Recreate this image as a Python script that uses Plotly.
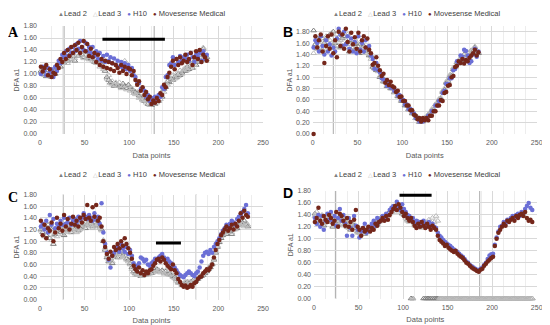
import plotly.graph_objects as go

# ---------------- data ----------------
x_A = list(range(1, 188, 2))
x_B = list(range(1, 186, 2))
x_C = list(range(1, 234, 2))
x_D = list(range(1, 246, 2))

# Panel A
lead2_A = [1.05,1.00,1.10,0.96,1.06,1.02,0.95,1.04, 1.00,1.10,1.18,1.12,1.22, 1.18,1.28,1.22,1.32,1.25,1.30,1.22,
           1.38,1.30,1.40,1.32,1.28,1.36,1.26,1.30, 1.25,1.30,1.20,1.26,1.18,1.22,1.15, 1.12,1.05,0.95,0.90,0.86,0.84,0.80,0.84,
           0.82,0.80,0.78,0.84,0.80,0.76,0.82,0.78, 0.75,0.72,0.70,0.68,0.64,0.62,0.58, 0.55,0.58,0.50,0.55,0.48,0.52,0.50,0.56,
           0.55,0.65,0.62,0.75,0.78,0.88,0.86, 0.92,0.90,0.96,0.94,1.00,0.98,1.02,1.05, 1.05,1.12,1.08,1.15,1.10,1.22,1.15,
           1.25,1.20,1.32,1.42,1.24,1.28]
lead3_A = [1.02,1.08,0.98,1.10,1.00,0.96,1.06,1.02, 1.08,1.14,1.12,1.20,1.18, 1.22,1.30,1.18,1.28,1.24,1.34,1.26,
           1.34,1.40,1.30,1.36,1.26,1.32,1.28,1.24, 1.28,1.22,1.26,1.18,1.22,1.12,1.18, 1.08,1.10,0.92,0.98,0.84,0.88,0.82,0.86,
           0.80,0.86,0.76,0.80,1.22,0.74,0.80,0.72, 0.76,0.68,0.66,0.70,0.60,0.62,0.56, 0.58,0.52,0.55,0.48,0.54,0.50,0.58,0.52,
           0.62,0.58,0.72,0.70,0.84,0.82,0.94, 0.90,0.98,0.92,1.00,0.96,1.06,1.00,1.08, 1.10,1.06,1.15,1.10,1.18,1.15,1.22,
           1.22,1.28,1.35,1.44,1.30,1.24]
h10_A = [1.00,1.12,1.05,0.98,1.10,1.02,1.08,0.95, 1.12,1.05,1.22,1.18,1.32, 1.28,1.38,1.30,1.42,1.35,1.45,1.38,
         1.50,1.42,1.55,1.45,1.40,1.52,1.38,1.45, 1.35,1.45,1.30,1.38,1.25,1.35,1.22, 1.30,1.20,1.32,1.22,1.28,1.18,1.26,1.15,
         1.22,1.12,1.20,1.10,1.18,1.08,1.15,1.05, 1.10,0.98,0.95,0.85,0.85,0.75,0.76, 0.72,0.62,0.65,0.55,0.60,0.52,0.62,0.56,
         0.65,0.62,0.78,0.75,0.95,0.98,1.15, 1.18,1.28,1.15,1.25,1.20,1.30,1.22,1.28, 1.25,1.32,1.22,1.35,1.28,1.20,1.32,
         1.28,1.35,1.22,1.38,1.25,1.32]
move_A = [1.12,1.04,1.10,1.15,0.98,1.08,0.95,1.02, 1.00,1.15,1.10,1.25,1.20, 1.35,1.25,1.40,1.30,1.45,1.35,1.48,
          1.40,1.52,1.35,1.45,1.55,1.38,1.50,1.30, 1.42,1.28,1.35,1.20,1.32,1.15,1.25, 1.12,1.22,1.10,1.20,1.08,1.18,1.05,1.15,
          1.10,1.02,1.15,1.05,1.12,1.00,1.10,1.08, 0.98,1.05,0.90,0.82,0.88,0.72,0.78, 0.65,0.70,0.58,0.62,0.50,0.56,0.52,0.60,
          0.55,0.68,0.65,0.82,0.78,0.95,1.02, 1.12,1.22,1.08,1.25,1.15,1.28,1.18,1.22, 1.32,1.20,1.25,1.35,1.15,1.28,1.38,
          1.25,1.40,1.20,1.32,1.28,1.22]

# Panel B
lead2_B = [1.82,1.58,1.50,1.65,1.72,1.48,1.60,1.68, 1.55,1.75,1.52,1.80,1.60,1.55,1.70,
           1.52,1.68,1.72,1.58,1.62,1.45,1.65,1.52, 1.60,1.58,1.48,1.58,1.42,1.55,1.45,
           1.48,1.38,1.38,1.18,1.15,1.12,1.12,1.00, 1.00,0.92,0.92,0.84,0.88,0.80,0.80,
           0.73,0.74,0.66,0.66,0.58,0.58,0.50,0.50, 0.43,0.44,0.36,0.36,0.28,0.27,0.21,
           0.24,0.22,0.28,0.26,0.34,0.34,0.42,0.43, 0.52,0.53,0.60,0.62,0.74,0.78,0.90,
           0.93,1.02,1.03,1.14,1.18,1.26,1.26,1.32, 1.30,1.40,1.33,1.32,1.38,1.47,1.46, 1.52,1.42,1.42]
lead3_B = [1.42,1.52,1.55,1.68,1.52,1.62,1.45,1.72, 1.52,1.65,1.78,1.58,1.52,1.75,1.62,
           1.65,1.55,1.70,1.52,1.75,1.58,1.48,1.60, 1.50,1.62,1.52,1.50,1.55,1.52,1.42,
           1.50,1.40,1.32,1.22,1.18,1.15,1.10,1.02, 1.02,0.94,0.94,0.86,0.88,0.82,0.82,
           0.74,0.74,0.68,0.68,0.60,0.60,0.52,0.52, 0.44,0.45,0.38,0.37,0.28,0.30,0.22,
           0.25,0.23,0.29,0.28,0.35,0.36,0.44,0.44, 0.52,0.52,0.62,0.64,0.76,0.80,0.92,
           0.96,1.04,1.06,1.17,1.18,1.27,1.26,1.34, 1.32,1.32,1.34,1.44,1.36,1.47,1.48, 1.54,1.44,1.44]
h10_B = [1.52,1.65,1.60,1.45,1.72,1.55,1.40,1.65, 1.45,1.58,1.38,1.52,1.45,1.68,1.85,
         1.75,1.55,1.80,1.58,1.72,1.50,1.68,1.45, 1.62,1.42,1.72,1.48,1.60,1.45,1.65,
         1.52,1.55,1.38,1.32,1.15,1.25,1.12,1.08, 0.98,0.96,0.94,0.85,0.88,0.82,0.82,
         0.76,0.76,0.68,0.68,0.60,0.60,0.52,0.52, 0.44,0.44,0.38,0.36,0.28,0.28,0.22,
         0.24,0.22,0.26,0.26,0.32,0.32,0.40,0.40, 0.50,0.50,0.58,0.60,0.72,0.76,0.88,
         0.88,0.98,0.98,1.12,1.15,1.28,1.26,1.38, 1.36,1.48,1.46,1.38,1.25,1.28,1.40, 1.50,1.36,1.45]
move_B = [0.00,1.72,1.52,1.65,1.75,1.45,1.25,1.55, 1.72,1.50,1.75,1.42,1.65,1.35,1.80,
          1.55,1.75,1.50,1.85,1.62,1.45,1.78,1.58, 1.70,1.50,1.78,1.45,1.65,1.72,1.52,
          1.68,1.48,1.42,1.22,1.25,1.35,1.20,1.12, 1.02,1.06,0.90,0.95,0.86,0.92,0.84,
          0.82,0.74,0.76,0.65,0.66,0.58,0.58,0.50, 0.50,0.42,0.42,0.34,0.32,0.26,0.28,
          0.22,0.28,0.24,0.28,0.24,0.32,0.32,0.40, 0.40,0.50,0.50,0.60,0.58,0.72,0.74,
          0.85,0.86,1.00,1.02,1.18,1.20,1.28,1.25, 1.32,1.24,1.30,1.28,1.34,1.38,1.42, 1.48,1.38,1.44]

# Panel C
lead2_C = [1.20,1.15,1.25,1.10,1.28,1.05,1.20,0.95, 1.12,1.18,1.22,1.15,1.25,1.10,1.20,
           1.18,1.22,1.15,1.28,1.20,1.25,1.18,1.22, 1.25,1.30,1.22,1.28,1.35,1.30,1.25,
           1.32,1.28,1.35,1.25,1.20,1.00,0.85,0.72, 0.65,0.70,0.62,0.75,0.80,0.72,0.78,
           0.82,0.75,0.80,0.70,0.68,0.62,0.55,0.48, 0.45,0.42,0.44,0.40,0.45,0.42,0.46,
           0.44,0.48,0.45,0.50,0.48,0.52,0.50,0.48, 0.50,0.46,0.48,0.44,0.45,0.42,0.40,
           0.38,0.35,0.30,0.28,0.25,0.26,0.28,0.30, 0.28,0.30,0.32,0.30,0.32,0.35,0.38,
           0.40,0.42,0.45,0.48,0.52,0.55,0.60,0.68, 0.80,0.90,0.98,1.05,1.10,1.15,1.12,
           1.15,1.18,1.12,1.20,1.25,1.22,1.28,1.30, 1.32,1.35,1.28,1.25]
lead3_C = [1.18,1.22,1.08,1.25,1.15,1.20,1.02,1.10, 1.15,1.08,1.20,1.25,1.12,1.18,1.22,
           1.15,1.25,1.20,1.18,1.22,1.15,1.28,1.20, 1.22,1.28,1.32,1.25,1.30,1.28,1.22,
           1.30,1.25,1.32,1.22,1.18,1.02,0.88,0.75, 0.68,0.72,0.65,0.78,0.75,0.80,0.72,
           0.78,0.72,0.76,0.68,0.65,0.60,0.52,0.46, 0.42,0.45,0.42,0.44,0.40,0.44,0.42,
           0.46,0.44,0.50,0.46,0.52,0.48,0.50,0.46, 0.48,0.44,0.50,0.46,0.42,0.44,0.38,
           0.36,0.32,0.28,0.30,0.26,0.28,0.30,0.28, 0.30,0.28,0.30,0.32,0.34,0.36,0.40,
           0.42,0.44,0.48,0.50,0.55,0.58,0.62,0.70, 0.82,0.92,1.00,1.08,1.12,1.18,1.15,
           1.18,1.20,1.15,1.22,1.20,1.25,1.30,1.28, 1.30,1.25,1.32,1.28]
h10_C = [1.25,1.30,1.20,1.35,1.15,1.45,1.28,1.38, 1.22,1.30,1.25,1.35,1.28,1.40,1.30,
         1.32,1.40,1.28,1.35,1.38,1.30,1.42,1.36, 1.40,1.48,1.42,1.38,1.45,1.40,1.35,
         1.48,1.38,1.42,1.30,1.65,1.15,0.95,0.80, 0.68,0.55,0.75,0.80,0.85,0.90,0.82,
         0.95,0.88,0.82,0.90,0.78,0.85,0.75,0.62, 0.55,0.58,0.62,0.72,0.70,0.65,0.68,
         0.60,0.58,0.62,0.65,0.70,0.68,0.72,0.75, 0.78,0.72,0.68,0.70,0.65,0.62,0.58,
         0.55,0.50,0.45,0.42,0.40,0.38,0.42,0.45, 0.48,0.45,0.42,0.40,0.45,0.48,0.55,
         0.65,0.75,0.80,0.82,0.78,0.85,0.80,0.90, 0.95,1.00,1.05,1.12,1.18,1.22,1.28,
         1.25,1.30,1.35,1.32,1.28,1.38,1.42,1.45, 1.50,1.55,1.62,1.48]
move_C = [1.35,1.10,1.28,1.05,1.22,1.18,1.32,1.00, 1.15,1.40,1.22,1.30,1.18,1.45,1.25,
          1.38,1.20,1.30,1.42,1.28,1.35,1.25,1.40, 1.32,1.45,1.38,1.62,1.40,1.35,1.58,
          1.42,1.62,1.35,1.40,1.25,1.00,0.90,0.78, 0.70,0.82,0.75,0.90,0.85,0.95,0.88,
          1.00,0.92,1.05,0.95,0.88,0.80,0.70,0.58, 0.52,0.48,0.55,0.45,0.50,0.42,0.48,
          0.45,0.50,0.52,0.58,0.62,0.68,0.70,0.65, 0.72,0.68,0.62,0.58,0.55,0.52,0.60,
          0.50,0.45,0.35,0.30,0.25,0.22,0.24,0.20, 0.22,0.25,0.22,0.28,0.30,0.35,0.38,
          0.40,0.45,0.48,0.52,0.50,0.55,0.60,0.72, 0.85,0.95,1.02,1.10,1.15,1.20,1.25,
          1.18,1.22,1.28,1.20,1.30,1.25,1.35,1.48, 1.40,1.52,1.45,1.42]

# Panel D
lead2_D = [1.42,1.30,1.35,1.25,1.38,1.22,1.30,1.35, 1.28,1.32,1.20,1.35,1.25,1.30,1.38,
           1.25,1.35,1.28,1.20,1.30,1.15,1.25,1.22, 1.18,1.12,1.10,1.15,1.12,1.08,1.12,
           1.18,1.15,1.20,1.22,1.28,1.25,1.30,1.35, 1.32,1.38,1.35,1.42,1.45,1.48,1.52,
           1.50,1.58,1.48,1.52,1.42,1.40,1.38,1.32, 1.30,0.00,0.00,1.25,1.22,1.28,1.20,
           1.25,0.00,0.00,0.00,0.00,0.00,0.00,0.00, 0.00,0.00,0.00,0.00,0.00,0.00,0.00,
           0.00,0.00,0.00,0.00,0.00,0.00,0.00,0.00, 0.00,0.00,0.00,0.00,0.00,0.00,0.00,
           0.00,0.00,0.00,0.00,0.00,0.00,0.00,0.00, 0.00,0.00,0.00,0.00,0.00,0.00,0.00,
           0.00,0.00,0.00,0.00,0.00,0.00,0.00,0.00, 0.00,0.00,0.00,0.00,0.00,0.00,0.00,0.00, 0.00,0.00]
lead3_D = [1.38,1.45,1.28,1.32,1.40,1.25,1.35,1.30, 1.35,1.28,1.38,1.22,1.32,1.28,1.35,
           1.30,1.22,1.32,1.25,1.18,1.28,1.20,1.25, 1.15,1.10,1.12,1.08,1.15,1.10,1.14,
           1.12,1.18,1.22,1.20,1.25,1.30,1.28,1.32, 1.35,1.32,1.40,1.38,1.42,1.45,1.48,
           1.52,1.45,1.55,1.50,1.45,1.42,1.35,1.30, 1.28,1.32,0.00,1.22,1.25,1.20,1.24,
           1.18,1.25,1.20,1.28,1.32,1.25,1.35,1.28, 1.38,1.30,0.00,0.00,0.00,0.00,0.00,
           0.00,0.00,0.00,0.00,0.00,0.00,0.00,0.00, 0.00,0.00,0.00,0.00,0.00,0.00,0.00,
           0.00,0.00,0.00,0.00,0.00,0.00,0.00,0.00, 0.00,0.00,0.00,0.00,0.00,0.00,0.00,
           0.00,0.00,0.00,0.00,0.00,0.00,0.00,0.00, 0.00,0.00,0.00,0.00,0.00,0.00,0.00,0.00, 0.00,0.00]
h10_D = [1.35,1.25,1.40,1.20,1.38,1.15,1.30,1.42, 1.32,1.45,1.28,1.38,1.22,1.35,1.50,
         1.30,1.40,1.25,1.05,1.35,1.18,1.05,1.38, 1.22,1.15,1.02,1.12,1.18,1.25,1.10,
         1.15,1.20,1.25,1.30,1.22,1.35,1.28,1.32, 1.38,1.35,1.42,1.40,1.48,1.52,1.55,
         1.50,1.62,1.55,1.48,1.58,1.50,1.45,1.40, 1.38,1.32,1.35,1.28,1.30,1.25,1.28,
         1.22,1.30,1.25,1.20,1.28,1.22,1.25,1.20, 1.18,1.10,1.05,1.02,0.98,0.95,0.92,
         0.90,0.88,0.85,0.82,0.80,0.78,0.75,0.72, 0.70,0.66,0.62,0.60,0.56,0.54,0.52,
         0.50,0.48,0.46,0.50,0.52,0.56,0.60,0.66, 0.72,0.74,0.75,0.90,1.02,1.12,1.20,
         1.22,1.28,1.25,1.32,1.30,1.35,1.38,1.36, 1.40,1.42,1.38,1.45,1.42,1.50,1.55,1.60, 1.52,1.48]
move_D = [1.28,1.35,1.52,1.30,1.25,1.38,1.32,1.28, 1.40,1.35,1.25,1.30,1.45,1.20,1.42,
          1.38,1.30,1.22,1.35,1.20,1.28,1.15,1.32, 1.48,1.20,1.15,1.05,1.18,1.12,1.15,
          1.20,1.12,1.18,1.15,1.25,1.22,1.28,1.30, 1.35,1.30,1.38,1.32,1.40,1.45,1.50,
          1.55,1.48,1.58,1.52,1.45,1.38,1.42,1.35, 1.30,1.35,1.28,1.22,1.18,1.25,1.20,
          1.28,1.22,1.18,1.25,1.20,1.15,1.22,1.18, 1.15,1.05,0.98,0.95,0.92,0.88,0.90,
          0.85,0.82,0.80,0.78,0.80,0.75,0.72,0.70, 0.68,0.64,0.60,0.58,0.55,0.52,0.50,
          0.48,0.46,0.45,0.48,0.50,0.55,0.58,0.62, 0.65,0.68,0.70,0.88,1.00,1.10,1.15,
          1.20,1.25,1.22,1.30,1.28,1.32,1.35,1.30, 1.38,1.35,1.40,1.42,1.38,1.45,1.35,1.30, 1.32,1.28]

series_names = ["Lead 2", "Lead 3", "H10", "Movesense Medical"]
panel_letters = ["A", "B", "C", "D"]
vlines = {"A": [27, 128], "B": [23, 125], "C": [26, 175], "D": [24, 186]}
bars = {"A": (70, 140, 1.58), "C": (130, 158, 0.97), "D": (96, 132, 1.73)}
x_ticks = [0, 50, 100, 150, 200, 250]

panels = {
    "A": (x_A, [lead2_A, lead3_A, h10_A, move_A]),
    "B": (x_B, [lead2_B, lead3_B, h10_B, move_B]),
    "C": (x_C, [lead2_C, lead3_C, h10_C, move_C]),
    "D": (x_D, [lead2_D, lead3_D, h10_D, move_D]),
}
for k, (xs, ys) in panels.items():
    for y in ys:
        assert len(y) == len(xs), (k, len(y), len(xs))

# ---------------- styling ----------------
# the page body has an 8px margin, so the figure is drawn 8px in from the window corner
OFF = 8
W, H = 550 - OFF, 325 - OFF
def fx(px):
    return (px - OFF) / W
def fy(py):
    return 1 - (py - OFF) / H

dom = {
    "A": dict(x=[fx(40), fx(263)], y=[fy(134), fy(26)], yr=[0, 1.8]),
    "B": dict(x=[fx(312.7), fx(536.7)], y=[fy(134), fy(26)], yr=[0, 1.9]),
    "C": dict(x=[fx(40), fx(263)], y=[fy(299.5), fy(194.5)], yr=[0, 1.8]),
    "D": dict(x=[fx(314), fx(536.7)], y=[fy(298.5), fy(191)], yr=[0, 1.8]),
}
letter_pos = {"A": (13, 33, "Liberation Serif"), "B": (288, 32, "Liberation Sans"),
              "C": (13, 197, "Liberation Serif"), "D": (288, 193, "Liberation Sans")}
legend_pos = {"A": (141, 13), "B": (416, 13), "C": (141, 174), "D": (416, 174)}

colors = ["#7f7f7f", "#bdbdbd", "#6b6fd6", "#74261a"]
symbols = ["triangle-up-open", "triangle-up-open", "circle", "circle"]
sizes = [5, 5, 4.5, 4.5]

fig = go.Figure()
layout = dict(width=W, height=H, margin=dict(l=0, r=0, t=0, b=0, autoexpand=False),
              paper_bgcolor="white", plot_bgcolor="white", showlegend=False,
              font=dict(family="Liberation Sans, Arial", color="#595959"))
shapes, annotations = [], []
tickfont = dict(size=7, color="#595959", family="Liberation Sans, Arial")

for i, p in enumerate(panel_letters):
    n = "" if i == 0 else str(i + 1)
    xs, ys = panels[p]
    for j, (name, y) in enumerate(zip(series_names, ys)):
        fig.add_trace(go.Scatter(
            x=xs, y=y, mode="markers", name=name, xaxis="x" + n, yaxis="y" + n,
            cliponaxis=False,
            marker=dict(symbol=symbols[j], size=sizes[j], color=colors[j],
                        line=dict(width=1, color=colors[j]) if j < 2 else dict(width=0)),
        ))
    d = dom[p]
    layout["xaxis" + n] = dict(domain=d["x"], anchor="y" + n, range=[0, 250], tickvals=x_ticks,
                               showgrid=True, gridcolor="#d9d9d9", gridwidth=1, zeroline=False,
                               minor=dict(dtick=12.5, showgrid=True, gridcolor="#ededed", tick0=0),
                               showline=False, ticks="", tickfont=tickfont, automargin=False,
                               ticklabelstandoff=3,
                               title=dict(text="Data points", font=dict(size=7.5, color="#595959"), standoff=7))
    layout["yaxis" + n] = dict(domain=d["y"], anchor="x" + n, range=d["yr"], dtick=0.2, tick0=0,
                               tickformat=".2f", showgrid=True, gridcolor="#d9d9d9", zeroline=False,
                               showline=False, ticks="", tickfont=tickfont, automargin=False,
                               ticklabelstandoff=2,
                               title=dict(text="DFA a1", font=dict(size=7, color="#595959"), standoff=2))
    for xv in vlines[p]:
        shapes.append(dict(type="line", xref="x" + n, yref="y" + n + " domain", x0=xv, x1=xv, y0=0,
                           y1=1 if p != "B" else 0.95, line=dict(color="#aaaaaa", width=1), layer="below"))
    if p in bars:
        b = bars[p]
        shapes.append(dict(type="line", xref="x" + n, yref="y" + n, x0=b[0], x1=b[1], y0=b[2], y1=b[2],
                           line=dict(color="black", width=3)))
    lx, ly, lf = letter_pos[p]
    annotations.append(dict(text="<b>%s</b>" % p, x=fx(lx), y=fy(ly), xref="paper", yref="paper",
                            showarrow=False, xanchor="center", yanchor="middle",
                            font=dict(size=14, color="black", family=lf)))
    gx, gy = legend_pos[p]
    sp = "&nbsp;&nbsp;&nbsp;"
    leg = ("<span style='color:#7f7f7f;font-size:6px'>▲</span>Lead 2" + sp +
           "<span style='color:#bdbdbd;font-size:6px'>△</span>Lead 3" + sp +
           "<span style='color:#6b6fd6;font-size:6px'>●</span> H10" + sp +
           "<span style='color:#74261a;font-size:6px'>●</span> Movesense Medical")
    annotations.append(dict(text=leg, x=fx(gx), y=fy(gy), xref="paper", yref="paper",
                            showarrow=False, xanchor="center", yanchor="middle",
                            font=dict(size=7.5, color="#404040", family="Liberation Sans, Arial")))

layout["shapes"] = shapes
layout["annotations"] = annotations
fig.update_layout(**layout)
fig.write_html("out.html")
